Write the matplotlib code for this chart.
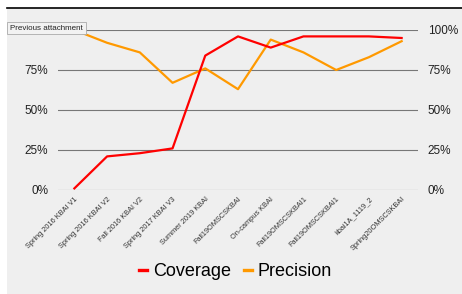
import matplotlib
matplotlib.use("Agg")
import matplotlib.pyplot as plt
from matplotlib.patches import Rectangle
from matplotlib.lines import Line2D

plt.rcParams['font.family'] = ['Liberation Sans', 'DejaVu Sans']

courses = ["Spring 2016 KBAI V1", "Spring 2016 KBAI V2", "Fall 2016 KBAI V2",
           "Spring 2017 KBAI V3", "Summer 2019 KBAI", "Fall19OMSCSKBAI",
           "On-campus KBAI", "Fall19OMSCSKBAI1", "Fall19OMSCSKBAI1",
           "kbai1A_1119_2", "Spring20OMSCSKBAI"]
coverage = [1, 21, 23, 26, 84, 96, 89, 96, 96, 96, 95]
precision = [100, 92, 86, 67, 76, 63, 94, 86, 75, 83, 93]
ticks = [0, 25, 50, 75, 100]

fig = plt.figure(figsize=(4.62, 2.94), dpi=100, facecolor='white')

# grey page background + black top rule
fig.patches.append(Rectangle((7/462, 0), 1, 1 - 8/294, transform=fig.transFigure,
                             facecolor='#efefef', edgecolor='none', zorder=-10))
fig.lines.append(Line2D([7/462, 1], [1 - 7.5/294, 1 - 7.5/294], transform=fig.transFigure,
                        color='black', lw=1.2))

ax = fig.add_axes([58/462, 1 - 190/294, 360/462, 160/294])
ax.set_facecolor('none')
x = range(len(courses))
ax.plot(x, coverage, color='#ff0000', lw=1.6, label='Coverage', clip_on=False, zorder=3)
ax.plot(x, precision, color='#ff9900', lw=1.6, label='Precision', clip_on=False, zorder=2)

ax.set_xlim(-0.5, len(courses) - 0.5)
ax.set_ylim(0, 100)
ax.set_yticks(ticks)
ax.set_yticklabels([f"{t}%" for t in ticks], fontsize=8.5, color='#222222')
ax.tick_params(axis='y', length=0, pad=7, labelright=True, labelleft=True)
ax.set_xticks(list(x))
ax.set_xticklabels(courses, rotation=45, ha='right', rotation_mode='anchor',
                   fontsize=5.3, color='#333333')
ax.tick_params(axis='x', length=0, pad=4)
for t in ticks:
    ax.axhline(t, color='#777777', lw=0.8, zorder=1)
for s in ax.spines.values():
    s.set_visible(False)

leg = fig.legend(loc='center', bbox_to_anchor=(0.51, 1 - 272/294), ncol=2, frameon=False,
                 fontsize=13, handlelength=0.45, handletextpad=0.3, columnspacing=0.75)
for h in leg.legend_handles:
    h.set_linewidth(2.4)

# browser tooltip sitting over the chart
fig.text(10/462, 1 - 28/294, "Previous attachment", fontsize=5.8, va='center', ha='left',
         color='#222222', zorder=10,
         bbox=dict(boxstyle='square,pad=0.35', facecolor='#f2f2f2', edgecolor='#aaaaaa', lw=0.6))

fig.savefig("out.png", dpi=100, facecolor='white')
